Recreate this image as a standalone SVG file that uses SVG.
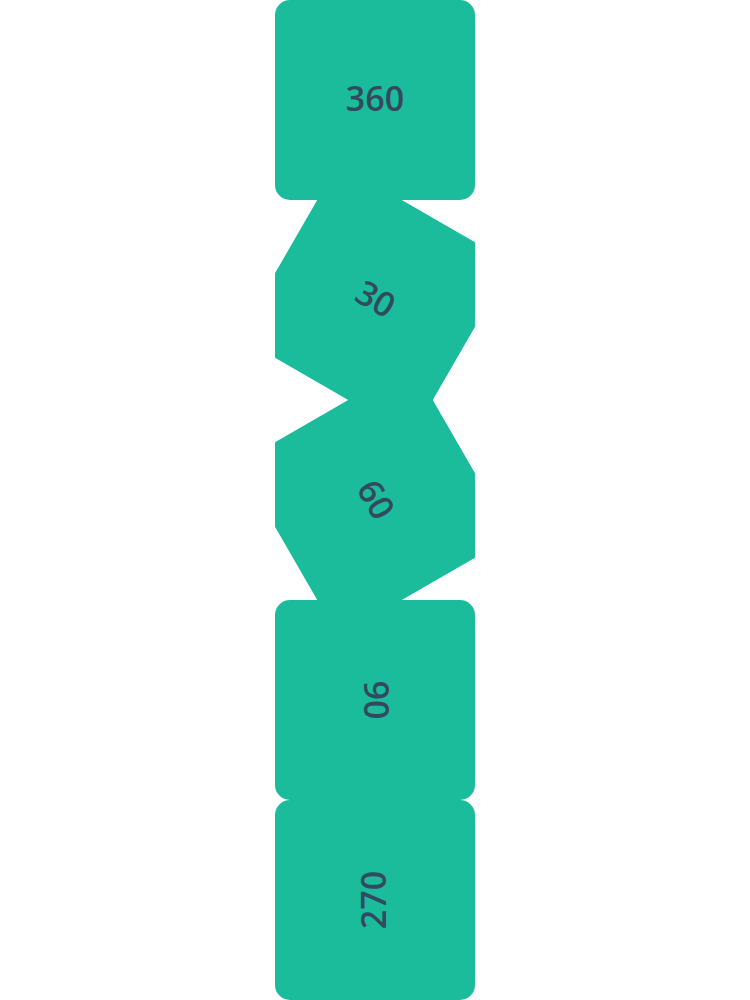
<svg xmlns="http://www.w3.org/2000/svg" width="750" height="1000" viewBox="0 0 750 1000">
<style>
.box{fill:#1abc9c}
.lbl{fill:#34495e;font-family:"Open Sans","Noto Sans",sans-serif;font-size:34px;font-weight:600;text-anchor:middle;dominant-baseline:central}
</style>
<defs>
<clipPath id="c1"><rect x="275" y="200" width="200" height="200"/></clipPath>
<clipPath id="c2"><rect x="275" y="400" width="200" height="200"/></clipPath>
</defs>
<rect width="750" height="1000" fill="#ffffff"/>
<g id="connectors"/>
<g id="n360" transform="translate(375,100)">
<rect class="box" x="-100" y="-100" width="200" height="200" rx="15"/>
<text class="lbl" x="0" y="-2">360</text>
</g>
<g id="n30" clip-path="url(#c1)">
<g transform="translate(375,300) rotate(30)">
<rect class="box" x="-100" y="-100" width="200" height="200" rx="15"/>
<text class="lbl" x="0" y="-2">30</text>
</g>
</g>
<g id="n60" clip-path="url(#c2)">
<g transform="translate(375,500) rotate(60)">
<rect class="box" x="-100" y="-100" width="200" height="200" rx="15"/>
<text class="lbl" x="0" y="-2">60</text>
</g>
</g>
<g id="n90" transform="translate(375,700) rotate(90)">
<rect class="box" x="-100" y="-100" width="200" height="200" rx="15"/>
<text class="lbl" x="0" y="-2">90</text>
</g>
<g id="n270" transform="translate(375,900) rotate(270)">
<rect class="box" x="-100" y="-100" width="200" height="200" rx="15"/>
<text class="lbl" x="0" y="-2">270</text>
</g>
</svg>
